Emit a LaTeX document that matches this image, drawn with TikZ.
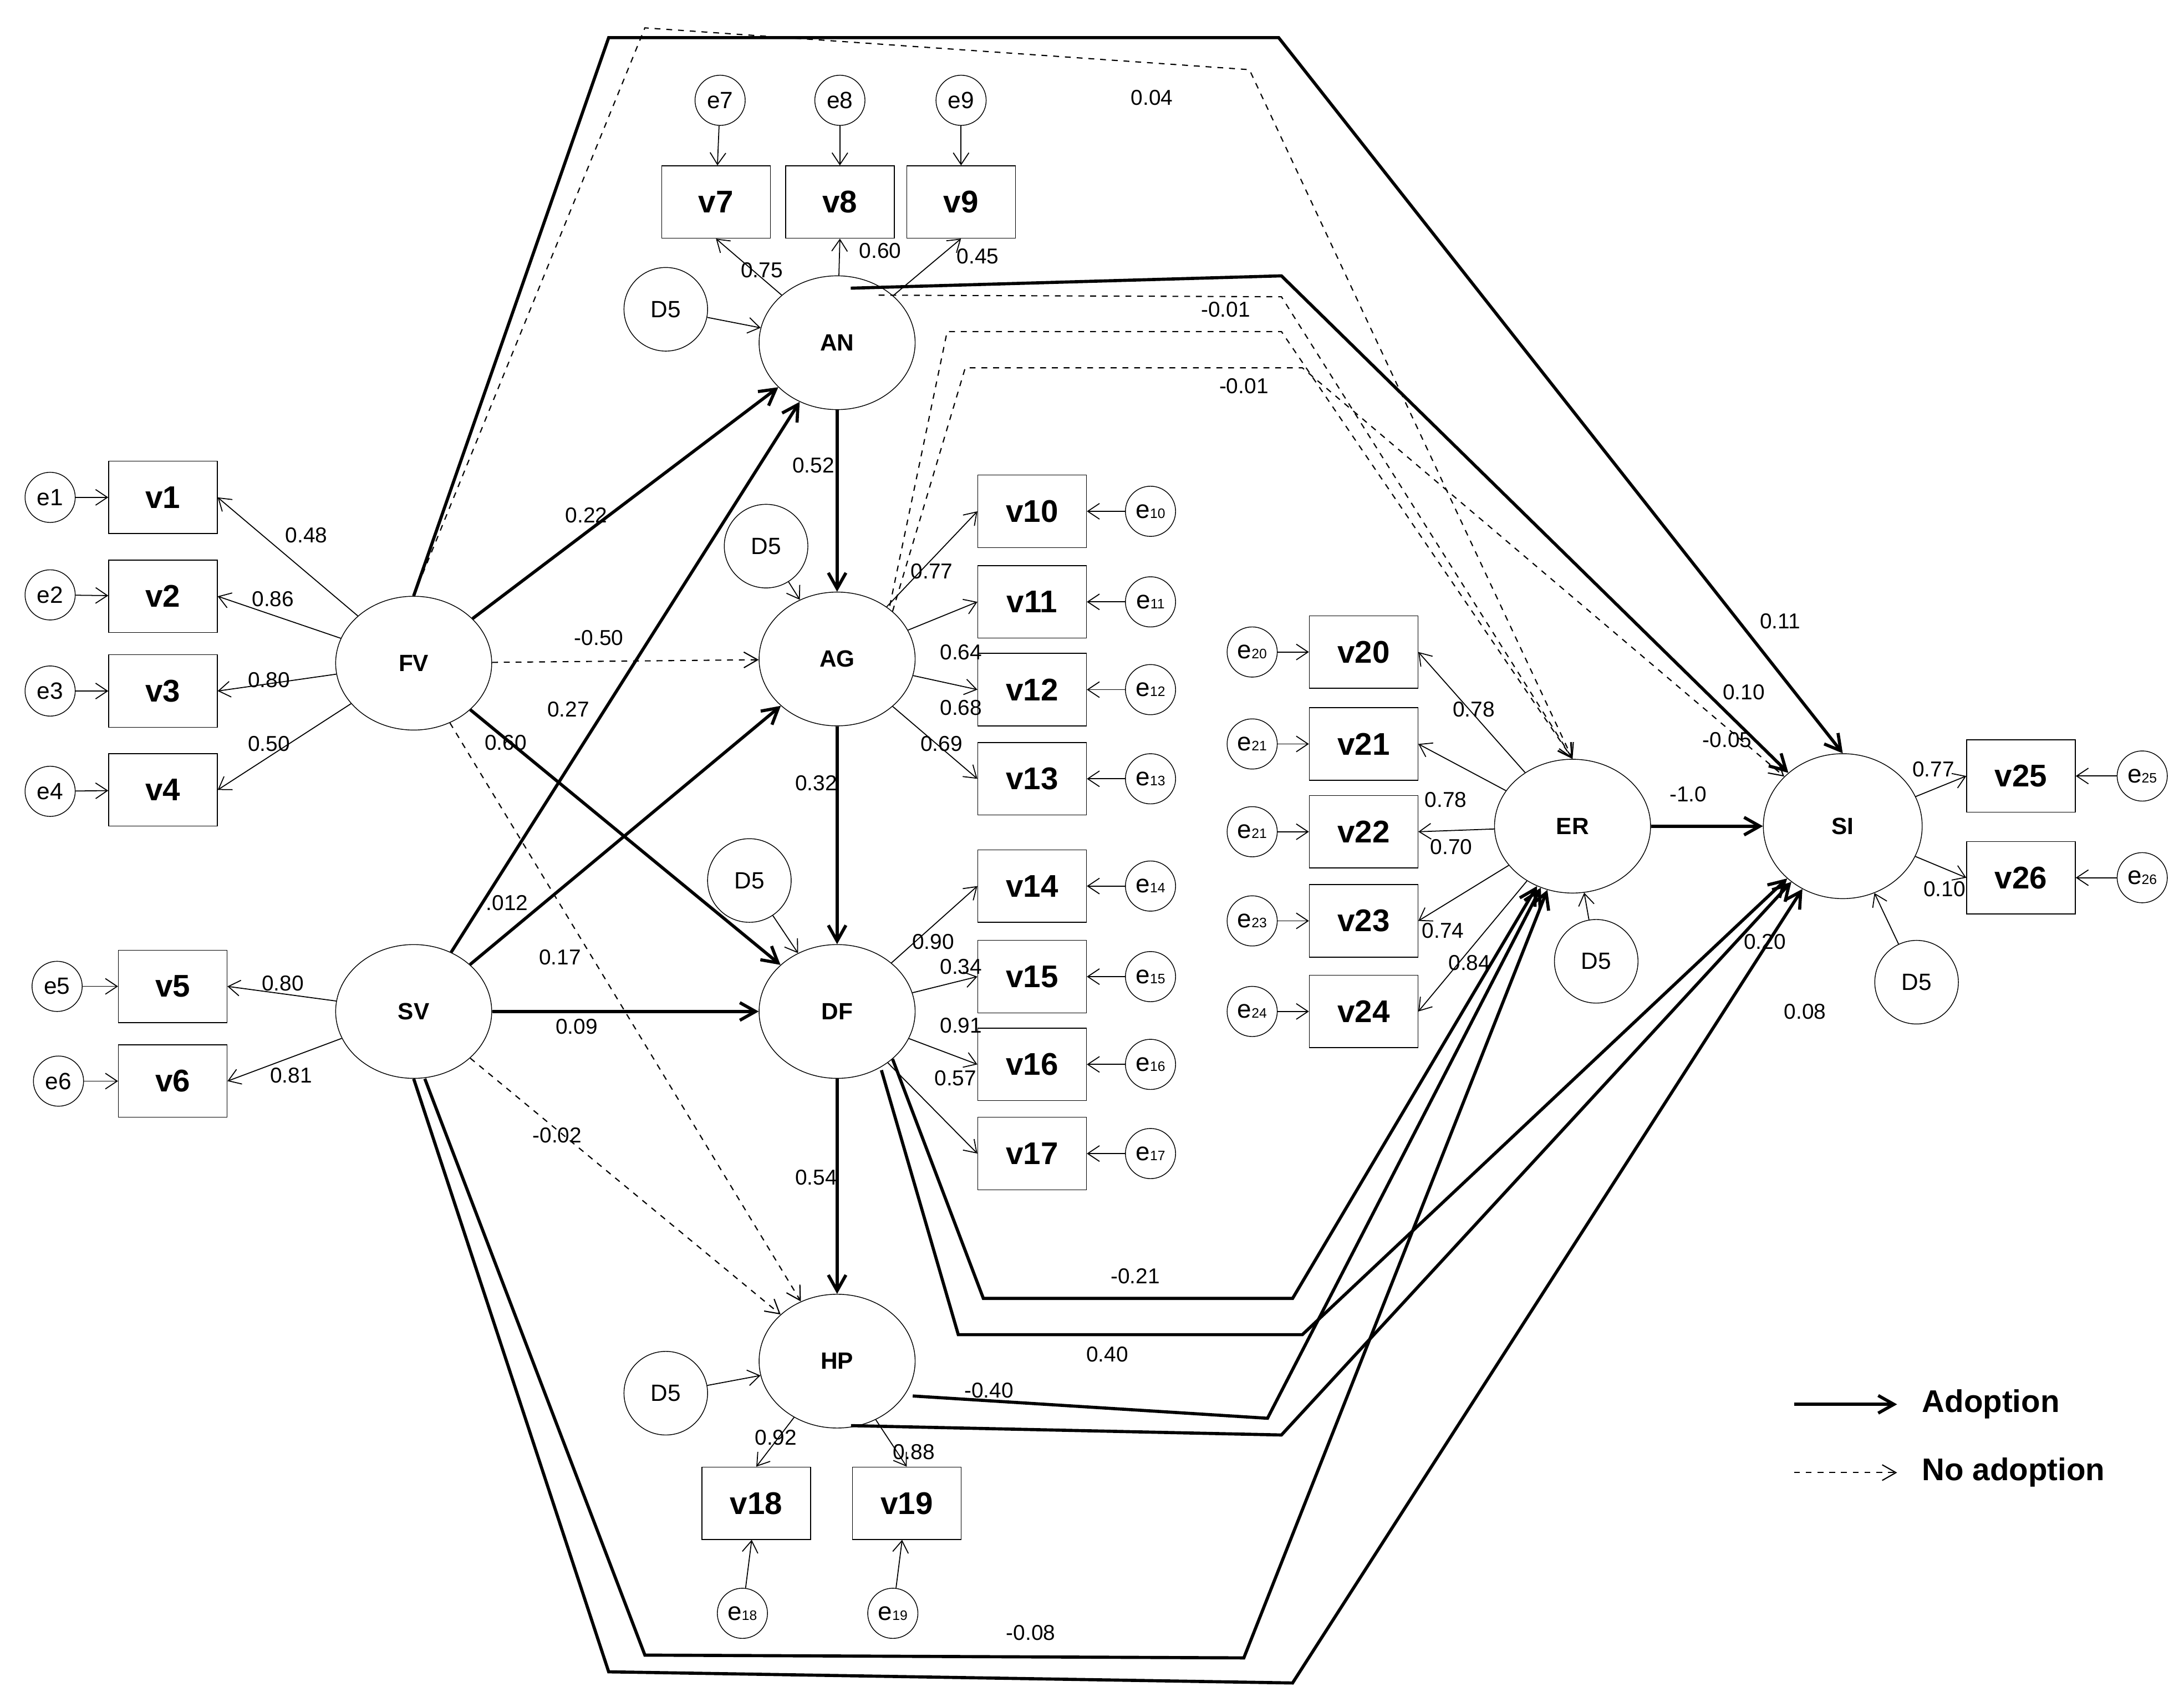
\documentclass[tikz,border=0pt]{standalone}
\usepackage{fontspec}
\setmainfont{Liberation Sans}
\usetikzlibrary{arrows.meta,shapes.geometric}
\begin{document}
\begin{tikzpicture}[x=0.025cm,y=-0.025cm,
 lat/.style={draw,ellipse,minimum width=2.8cm,minimum height=2.4cm,font=\fontsize{12}{13}\selectfont\bfseries,inner sep=0pt},
 obs/.style={draw,minimum width=1.95cm,minimum height=1.3cm,font=\fontsize{16}{18}\selectfont\bfseries,inner sep=0pt},
 err/.style={draw,circle,minimum size=0.9cm,inner sep=0pt,font=\fontsize{10}{11}\selectfont},
 dis/.style={draw,circle,minimum size=1.5cm,inner sep=0pt,font=\fontsize{12}{13}\selectfont},
 ldg/.style={-{Straight Barb[length=6pt,width=8pt]},line width=0.5pt},
 strongarr/.style={-{Straight Barb[length=8pt,width=9pt]},line width=1.6pt},
 dsh/.style={-{Straight Barb[length=7pt,width=8pt]},dashed,line width=0.6pt},
 lb/.style={font=\fontsize{11}{12}\selectfont,inner sep=1pt}]
\fill[white] (0,0) rectangle (1568,1225);
\useasboundingbox (0,0) rectangle (1568,1225);
% latent
\node[lat] (AN) at (601,246) {AN};
\node[lat] (AG) at (601,473) {AG};
\node[lat] (DF) at (601,726) {DF};
\node[lat] (HP) at (601,977) {HP};
\node[lat] (FV) at (297,476) {FV};
\node[lat] (SV) at (297,726) {SV};
\node[lat] (ER) at (1129,593) {ER};
\node[lat,minimum width=2.85cm,minimum height=2.6cm] (SI) at (1323,593) {SI};
% observed
\foreach \n/\x/\y in {v7/514/145,v8/603/145,v9/690/145,v1/117/357,v2/117/428,v3/117/496,v4/117/567,v5/124/708,v6/124/776,
 v10/741/367,v11/741/432,v12/741/495,v13/741/559,v14/741/636,v15/741/701,v16/741/764,v17/741/828,v18/543/1079,v19/651/1079,
 v20/979/468,v21/979/534,v22/979/597,v23/979/661,v24/979/726,v25/1451/557,v26/1451/630}
 \node[obs] (\n) at (\x,\y) {\n};
% errors
\foreach \n/\t/\x/\y in {e1/e1/36/357,e2/e2/36/427,e3/e3/36/496,e4/e4/36/568,e5/e5/41/708,e6/e6/42/776,e7/e7/517/72,e8/e8/603/72,e9/e9/690/72}
 \node[err,font=\fontsize{12}{13}\selectfont] (\n) at (\x,\y) {\t};
\foreach \n/\t/\x/\y in {e10/10/826/367,e11/11/826/432,e12/12/826/495,e13/13/826/559,e14/14/826/636,e15/15/826/701,e16/16/826/764,e17/17/826/828,
 e18/18/533/1158,e19/19/641/1158,e20/20/899/468,e21/21/899/534,e22/21/899/597,e23/23/899/661,e24/24/899/726,e25/25/1538/557,e26/26/1538/630}
 \node[err] (\n) at (\x,\y) {\fontsize{13}{14}\selectfont e\fontsize{7}{8}\selectfont\t};
% disturbances
\foreach \n/\x/\y in {d1/478/222,d2/550/392,d3/538/632,d4/478/1000,d5/1146/690,d6/1376/705}
 \node[dis] (\n) at (\x,\y) {D5};
% error arrows
\foreach \e/\v in {e1/v1,e2/v2,e3/v3,e4/v4,e5/v5,e6/v6,e7/v7,e8/v8,e9/v9,e10/v10,e11/v11,e12/v12,e13/v13,e14/v14,e15/v15,e16/v16,e17/v17,e18/v18,e19/v19,e20/v20,e21/v21,e22/v22,e23/v23,e24/v24,e25/v25,e26/v26}
 \draw[ldg] (\e) -- (\v);
\draw[ldg] (d1) -- (AN); \draw[ldg] (d2) -- (AG); \draw[ldg] (d3) -- (DF); \draw[ldg] (d4) -- (HP);
\draw[ldg] (d5) -- (ER); \draw[ldg] (d6) -- (SI);
% loadings
\foreach \v in {v1,v2,v3,v4} \draw[ldg] (FV) -- (\v.east);
\foreach \v in {v5,v6} \draw[ldg] (SV) -- (\v.east);
\foreach \v in {v7,v8,v9} \draw[ldg] (AN) -- (\v.south);
\foreach \v in {v10,v11,v12,v13} \draw[ldg] (AG) -- (\v.west);
\foreach \v in {v14,v15,v16,v17} \draw[ldg] (DF) -- (\v.west);
\foreach \v in {v18,v19} \draw[ldg] (HP) -- (\v.north);
\foreach \v in {v20,v21,v22,v23,v24} \draw[ldg] (ER) -- (\v.east);
\foreach \v in {v25,v26} \draw[ldg] (SI) -- (\v.west);
\foreach \t/\x/\y in {0.48/220/384,0.86/196/430,0.80/193/488,0.50/193/534,0.80/203/706,0.81/209/772,0.75/547/194,0.60/632/180,0.45/702/184,
 0.77/669/410,0.64/690/468,0.68/690/508,0.69/676/534,0.90/670/676,0.34/690/694,0.91/690/736,0.57/686/774,0.92/557/1032,0.88/656/1042,
 0.78/1058/509,0.78/1038/574,0.70/1042/608,0.74/1036/668,0.84/1055/691,0.77/1388/552,0.10/1396/638}
 \node[lb] at (\x,\y) {\t};
% structural strong
\draw[strongarr] (FV) -- (AN); \draw[strongarr] (FV) -- (DF);
\draw[strongarr] (SV) -- (AN); \draw[strongarr] (SV) -- (AG); \draw[strongarr] (SV) -- (DF);
\draw[strongarr] (AN) -- (AG); \draw[strongarr] (AG) -- (DF); \draw[strongarr] (DF) -- (HP);
\draw[strongarr] (ER) -- (SI);
\draw[strongarr] (FV.north) -- (437,27) -- (918,27) -- (SI.north);
\draw[strongarr] (AN.north east) ++(-30,-5) -- (920,198) -- (SI);
\draw[strongarr] (DF.south east) -- (706,932) -- (928,932) -- (ER);
\draw[strongarr] (DF.south east) ++(-8,8) -- (688,958) -- (935,958) -- (SI);
\draw[strongarr] (HP.east) ++(-2,25) -- (910,1018) -- (ER);
\draw[strongarr] (HP.south) ++(10,-2) -- (920,1030) -- (SI);
\draw[strongarr] (SV.south) -- (437,1200) -- (928,1208) -- (SI);
\draw[strongarr] (SV.south) ++(8,0) -- (463,1188) -- (893,1190) -- (ER);
% dashed
\draw[dsh] (FV) -- (AG); \draw[dsh] (FV) -- (HP); \draw[dsh] (SV) -- (HP);
\draw[dsh] (FV.north) -- (463,20) -- (897,50) -- (ER.north);
\draw[dsh] (AN.north east) ++(-10,0) -- (920,213) -- (ER.north);
\draw[dsh] (AG.north east) ++(-2,-4) -- (680,238) -- (920,238) -- (ER.north);
\draw[dsh] (AG.north east) -- (693,264) -- (935,264) -- (SI);
% structural labels
\foreach \t/\x/\y in {0.04/827/70,-0.01/880/222,-0.01/893/277,0.22/421/370,-0.50/430/458,0.27/408/509,0.60/363/533,0.52/584/334,0.32/586/562,
 .012/364/648,0.17/402/687,0.09/414/737,-0.02/400/815,0.54/586/845,-0.21/815/916,0.40/795/972,-0.40/710/998,-0.08/740/1172,
 0.11/1278/446,0.10/1252/497,-0.05/1240/531,-1.0/1212/570,0.20/1267/676,0.08/1296/726}
 \node[lb] at (\x,\y) {\t};
% legend
\coordinate (la) at (1288,1008); \coordinate (lb1) at (1362,1008);
\coordinate (lc) at (1288,1057); \coordinate (ld) at (1362,1057);
\draw[strongarr] (la) -- (lb1); \draw[dsh] (lc) -- (ld);
\node[anchor=west,font=\fontsize{16}{17}\selectfont\bfseries] at (1375,1008) {Adoption};
\node[anchor=west,font=\fontsize{16}{17}\selectfont\bfseries] at (1375,1057) {No adoption};
\end{tikzpicture}
\end{document}
